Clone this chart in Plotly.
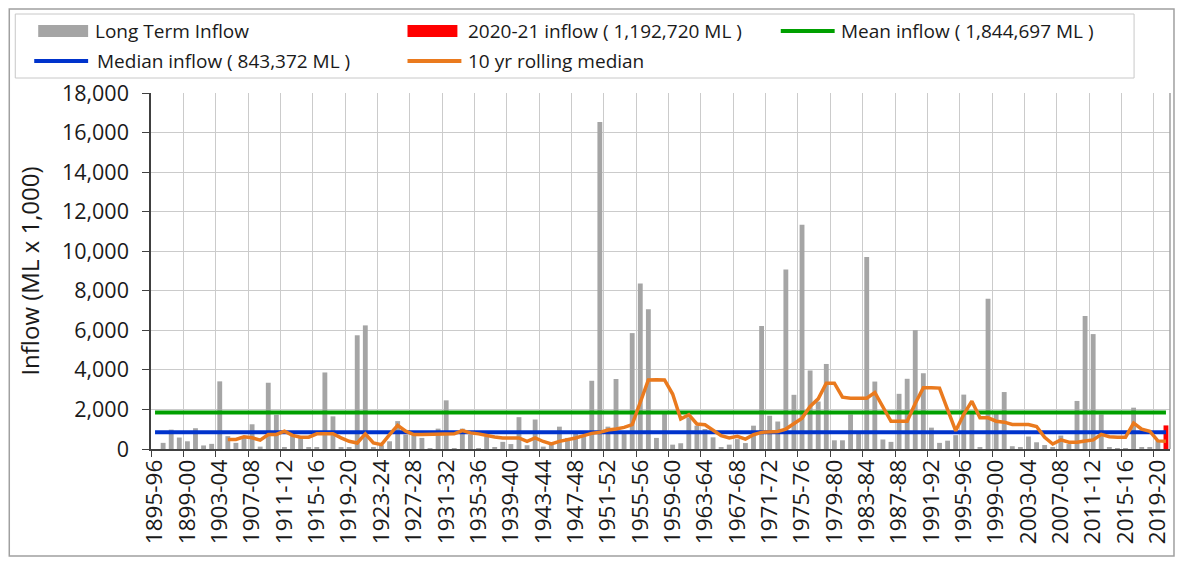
import plotly.graph_objects as go

# water years 1895-96 .. 2020-21
years = [f"{y}-{str(y + 1)[-2:]}" for y in range(1895, 2021)]

# annual inflow, ML x 1,000 (2020-21 drawn separately in red)
long_term_inflow = [
    0, 310, 980, 580, 390, 1050, 180, 260, 3420, 650,
    310, 560, 1250, 120, 3350, 1730, 60, 800, 650, 60,
    60, 3870, 1650, 80, 100, 5750, 6250, 100, 190, 390,
    1410, 730, 810, 560, 50, 1030, 2460, 50, 1030, 730,
    50, 640, 100, 360, 250, 1610, 190, 1490, 120, 250,
    1130, 560, 760, 710, 3450, 16540, 1130, 3540, 760, 5860,
    8370, 7070, 560, 1770, 220, 290, 1600, 1180, 1010, 590,
    85, 220, 500, 300, 1180, 6220, 1680, 1390, 9070, 2740,
    11340, 3970, 2400, 4300, 440, 440, 1750, 900, 9710, 3410,
    480, 360, 2790, 3550, 6010, 3830, 1080, 310, 420, 700,
    2750, 1900, 85, 7600, 1830, 2880, 140, 85, 630, 340,
    200, 85, 680, 250, 2430, 6730, 5810, 1750, 85, 50,
    50, 2090, 100, 100, 420, None,
]
current_year_inflow = [None] * 125 + [1192.720]

rolling_median = [
    None, None, None, None, None, None, None, None, None, 480,
    480, 615, 565, 450, 735, 735, 900, 690, 600, 600,
    770, 770, 770, 560, 390, 305, 763, 305, 220, 730,
    1200, 900, 730, 730, 730, 730, 730, 765, 930, 815,
    765, 680, 610, 560, 560, 560, 390, 560, 380, 253,
    387, 455, 556, 674, 791, 842, 960, 1010, 1095, 1230,
    2360, 3490, 3500, 3490, 2780, 1520, 1735, 1263, 1229, 926,
    674, 556, 640, 500, 722, 840, 857, 890, 1008, 1310,
    1562, 2150, 2537, 3326, 3330, 2620, 2570, 2570, 2570, 2856,
    2140, 1400, 1400, 1400, 2300, 3100, 3100, 3080, 1990, 920,
    1750, 2420, 1576, 1576, 1407, 1356, 1237, 1237, 1237, 1136,
    593, 254, 458, 339, 339, 400, 458, 740, 620, 600,
    600, 1310, 1000, 900, 410, 390,
]

mean_inflow = 1844.697
median_inflow = 843.372

# page has an 8px body margin, so the figure is drawn from (8, 8)
OFF = 8
W, H = 1184 - OFF, 563 - OFF
# plot area in screenshot pixels
L, R, T, B = 151, 1172, 93, 449


def px_x(px):
    return (px - L) / (R - L)


def px_y(py):
    return (B - py) / (B - T)


FONT = "Open Sans"
TXT = "#1a1a1a"
GRID = "#cbcbcb"

GREY, RED, GREEN, BLUE, ORANGE = "#a5a5a5", "#ff0000", "#00a000", "#0033cc", "#ea7a1e"

fig = go.Figure()

fig.add_trace(go.Bar(
    x=years, y=long_term_inflow, name="Long Term Inflow",
    marker=dict(color=GREY, line=dict(width=0)), width=0.6,
))
fig.add_trace(go.Bar(
    x=years, y=current_year_inflow, name="2020-21 inflow ( 1,192,720 ML )",
    marker=dict(color=RED, line=dict(width=0)), width=0.6,
))
fig.add_trace(go.Scatter(
    x=years, y=[mean_inflow] * len(years), mode="lines",
    name="Mean inflow ( 1,844,697 ML )",
    line=dict(color=GREEN, width=4),
))
fig.add_trace(go.Scatter(
    x=years, y=[median_inflow] * len(years), mode="lines",
    name="Median inflow ( 843,372 ML )",
    line=dict(color=BLUE, width=4),
))
fig.add_trace(go.Scatter(
    x=years, y=rolling_median, mode="lines",
    name="10 yr rolling median",
    line=dict(color=ORANGE, width=3.5),
))

# legend drawn by hand (Excel style: wide swatches, two rows)
legend_items = [
    # (kind, colour, swatch left px, text left px, row centre px, trace index)
    ("box", GREY, 38, 93, 31, 0),
    ("box", RED, 408, 467, 31, 1),
    ("line", GREEN, 782, 840, 31, 2),
    ("line", BLUE, 34, 95, 61, 3),
    ("line", ORANGE, 408, 467, 61, 4),
]
shapes = [
    # right edge of plot area
    dict(type="line", xref="paper", yref="paper", x0=1, x1=1, y0=0, y1=1,
         line=dict(color="#a0a0a0", width=1.5)),
    # legend box
    dict(type="rect", xref="paper", yref="paper",
         x0=px_x(15), x1=px_x(1136), y0=px_y(78), y1=px_y(14),
         line=dict(color="#c8c8c8", width=1)),
    # outer chart frame
    dict(type="rect", xref="paper", yref="paper",
         x0=px_x(OFF + 1), x1=px_x(1176), y0=px_y(556), y1=px_y(OFF + 1),
         line=dict(color="#a0a0a0", width=1.5)),
]
annotations = []
for kind, col, sx, tx, cy, idx in legend_items:
    if kind == "box":
        shapes.append(dict(type="rect", xref="paper", yref="paper",
                           x0=px_x(sx), x1=px_x(sx + 50), y0=px_y(cy + 6), y1=px_y(cy - 6),
                           fillcolor=col, line=dict(width=0)))
    else:
        shapes.append(dict(type="line", xref="paper", yref="paper",
                           x0=px_x(sx), x1=px_x(sx + 54), y0=px_y(cy), y1=px_y(cy),
                           line=dict(color=col, width=4)))
    annotations.append(dict(text=fig.data[idx].name, xref="paper", yref="paper",
                            x=px_x(tx), y=px_y(cy), xanchor="left", yanchor="middle",
                            showarrow=False, font=dict(family=FONT, size=19, color=TXT)))

fig.update_layout(
    width=W, height=H,
    margin=dict(l=L - OFF, r=W + OFF - R, t=T - OFF, b=H + OFF - B),
    paper_bgcolor="white", plot_bgcolor="white",
    barmode="overlay", showlegend=False,
    font=dict(family=FONT, color=TXT),
    xaxis=dict(
        type="category", tickson="boundaries", dtick=4, tick0=0,
        tickangle=-90, tickfont=dict(family=FONT, size=22.5, color=TXT),
        showgrid=True, gridcolor=GRID, gridwidth=1,
        ticks="outside", ticklen=6, tickcolor="#404040",
        showline=True, linecolor="#404040", linewidth=1.5,
        range=[-0.5, 125.5],
    ),
    yaxis=dict(
        range=[0, 18000], dtick=2000, tickformat=",",
        tickfont=dict(family=FONT, size=21.5, color=TXT),
        ticklabelstandoff=9,
        title=dict(text="Inflow (ML x 1,000)", font=dict(family=FONT, size=24, color=TXT), standoff=16),
        showgrid=True, gridcolor=GRID, gridwidth=1,
        ticks="outside", ticklen=7, tickcolor="#404040",
        showline=True, linecolor="#404040", linewidth=1.5,
        zeroline=False,
    ),
    shapes=shapes,
    annotations=annotations,
)

fig.write_html("out.html")
